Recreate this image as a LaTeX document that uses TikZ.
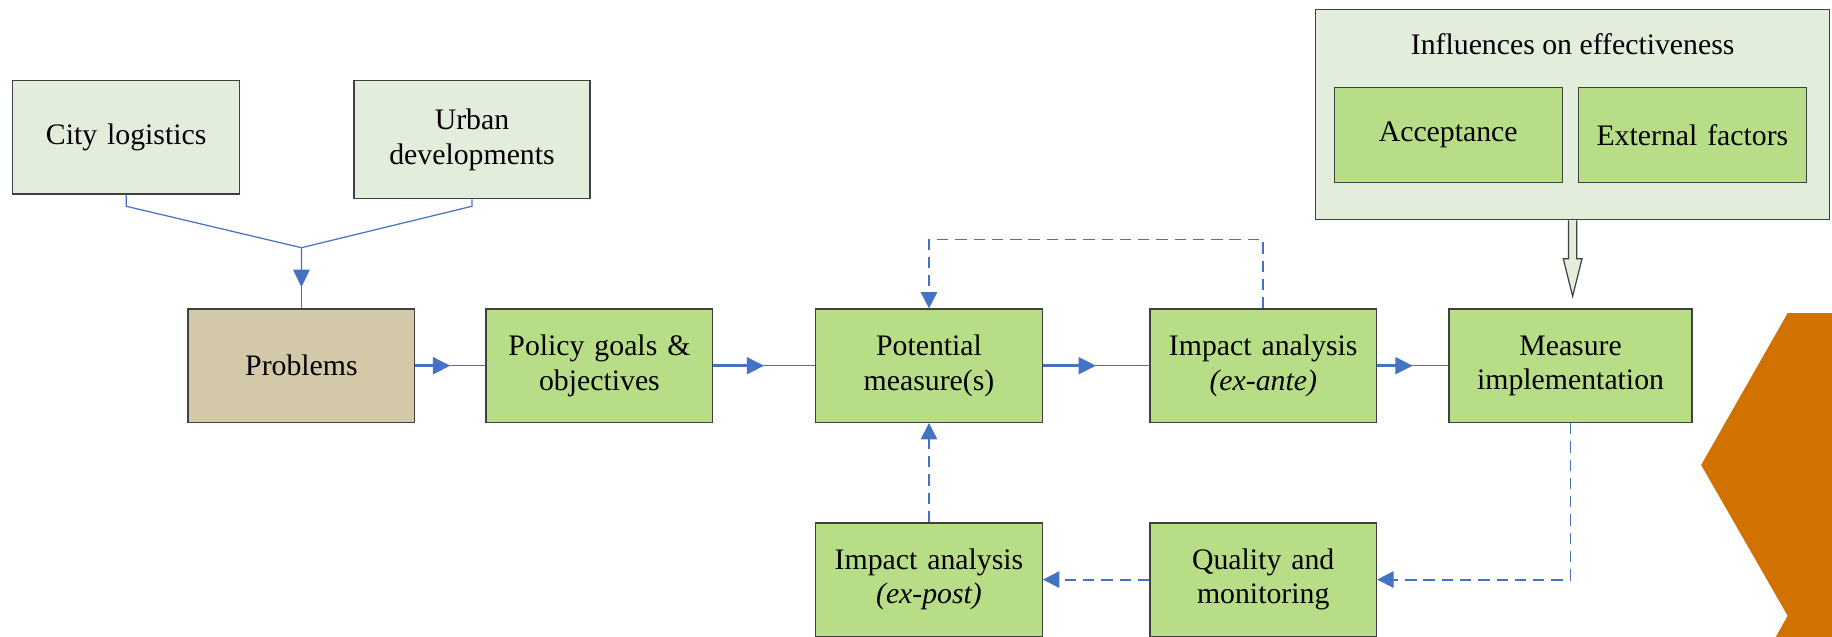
\documentclass[tikz,border=0pt]{standalone}
\usepackage{fontspec}
\setmainfont{Liberation Serif}
\usepackage{tikz}
\usetikzlibrary{arrows.meta, positioning, calc}
\definecolor{linkblue}{RGB}{68,114,196}
\definecolor{boxgreen}{RGB}{183,222,134}
\definecolor{palegreen}{RGB}{226,237,219}
\definecolor{probtan}{RGB}{211,201,169}
\definecolor{chevron}{RGB}{208,113,0}
\definecolor{edgegray}{RGB}{64,64,64}

\begin{document}
\begin{tikzpicture}[
  font=\fontsize{14.5}{16.8}\selectfont,
  box/.style={rectangle, draw=edgegray, line width=0.6pt, fill=boxgreen,
              minimum width=3.88cm, minimum height=1.94cm, text width=3.7cm,
              align=center, inner sep=0pt},
  pale/.style={box, fill=palegreen},
  link/.style={draw=linkblue, line width=0.6pt},
  flowtip/.style={draw=linkblue, fill=linkblue, line width=1.7pt,
                  -{Triangle[length=8.5pt,width=8pt]}},
  feedback/.style={draw=linkblue, line width=0.9pt, dash pattern=on 5.5pt off 3.4pt,
                   -{Triangle[length=8pt,width=8pt]}}
]
  \useasboundingbox (0,0) rectangle (31.36,-10.9);
  % right edge
  \fill[chevron] (30.6,-5.36) -- (31.36,-5.36) -- (31.36,-10.9) -- (30.4,-10.9)
    -- (30.6,-10.54) -- (29.12,-7.96) -- cycle;

  \node[pale] (city) at (2.16,-2.35) {City logistics};
  \node[pale, minimum width=4.04cm, minimum height=2.02cm] (urban) at (8.08,-2.39) {Urban\\developments};
  \node[box, fill=probtan] (prob) at (5.16,-6.26) {Problems};
  \node[box, right=1.2cm of prob] (policy) {Policy goals \&\\objectives};
  \node[box, right=1.74cm of policy] (potential) {Potential\\measure(s)};
  \node[box, right=1.82cm of potential] (exante) {Impact analysis\\\textit{(ex-ante)}};
  \node[box, right=1.22cm of exante, minimum width=4.16cm, text width=4cm] (measure) {Measure\\implementation};
  \node[box, below=1.7cm of potential] (expost) {Impact analysis\\\textit{(ex-post)}};
  \node[box, below=1.7cm of exante] (quality) {Quality and\\monitoring};

  % influences
  \node[pale, minimum width=8.8cm, minimum height=3.6cm] (infl) at (26.92,-1.96) {};
  \node (infltitle) at (26.92,-0.76) {Influences on effectiveness};
  \node[box, minimum width=3.9cm, minimum height=1.62cm] (accept) at (24.79,-2.31) {Acceptance};
  \node[box, minimum width=3.9cm, minimum height=1.62cm] (extern) at (28.97,-2.31) {External factors};
  \coordinate (tip) at ([yshift=-1.3cm]infl.south);
  \draw[edgegray, line width=0.6pt, fill=palegreen]
    ([xshift=-0.07cm]infl.south) -- ++(0,-0.66) -- ++(-0.09,0) -- (tip)
    -- ([xshift=0.16cm,yshift=0.64cm]tip) -- ++(-0.09,0) -- ([xshift=0.07cm]infl.south);

  % inputs to problems
  \coordinate (join) at (5.16,-4.24);
  \draw[link] (city.south) -- ++(0,-0.2) -- (join);
  \draw[link] (urban.south) -- ++(0,-0.12) -- (join);
  \draw[link] (join) -- (prob.north);
  \draw[link, fill=linkblue, -{Triangle[length=8.5pt,width=8pt]}] (join) -- ($(join)!0.65!(prob.north)$);

  % main flow
  \draw[link] (prob.east) -- (policy.west);
  \draw[flowtip] (prob.east) -- ($(prob.east)!0.5!(policy.west)$);
  \draw[link] (policy.east) -- (potential.west);
  \draw[flowtip] (policy.east) -- ($(policy.east)!0.5!(potential.west)$);
  \draw[link] (potential.east) -- (exante.west);
  \draw[flowtip] (potential.east) -- ($(potential.east)!0.5!(exante.west)$);
  \draw[link] (exante.east) -- (measure.west);
  \draw[flowtip] (exante.east) -- ($(exante.east)!0.5!(measure.west)$);

  % feedback loops
  \draw[feedback] (exante.north) -- ++(0,1.18) -| (potential.north);
  \draw[feedback] (measure.south) |- (quality.east);
  \draw[feedback] (quality.west) -- (expost.east);
  \draw[feedback] (expost.north) -- (potential.south);
\end{tikzpicture}
\end{document}
